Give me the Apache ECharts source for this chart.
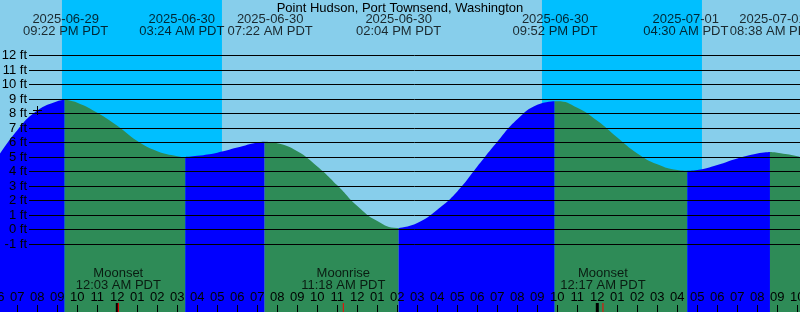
<!DOCTYPE html>
<html><head><meta charset="utf-8">
<script src="https://cdn.jsdelivr.net/npm/echarts@6/dist/echarts.min.js"></script>
<style>html,body{margin:0;padding:0;background:#87CEEB}#c{width:800px;height:312px}</style>
</head><body><div id="c"></div>
<script>
// ---------- data ----------
const chartTitle = 'Point Hudson, Port Townsend, Washington';
const tzName = 'PDT';
// tide extremes (high / low)
const eventTimes = ['2025-06-29 21:22','2025-06-30 03:24','2025-06-30 07:22','2025-06-30 14:04','2025-06-30 21:52','2025-07-01 04:30','2025-07-01 08:38'];
const eventFeet  = [8.95, 5.0, 6.05, 0.1, 8.85, 4.05, 5.35];
// hourly readings, hours counted from 2025-06-29 00:00
const sampleHours = [18,19,20,21,22,23,24,25,26,27,28,29,30,31,32,33,34,35,36,37,38,39,40,41,42,43,44,45,46,47,48,49,50,51,52,53,54,55,56,57,58,59];
const sampleFeet  = [4.95,6.85,8.2,8.85,8.75,8.05,7.15,6.1,5.4,5.06,5.08,5.3,5.65,6.0,5.95,5.4,4.35,3.05,1.62,0.58,0.1,0.45,1.36,2.62,4.34,6.05,7.6,8.6,8.85,8.4,7.5,6.35,5.25,4.5,4.1,4.1,4.45,4.9,5.25,5.3,5.05,4.6];
const sunsetTimes  = ['2025-06-29 21:14','2025-06-30 21:14'];
const sunriseTimes = ['2025-06-30 05:14','2025-07-01 05:14'];
const moonTimes  = ['2025-06-30 00:03','2025-06-30 11:18','2025-07-01 00:17'];
const moonEvents = ['Moonset','Moonrise','Moonset'];
const midnightTimes = ['2025-06-30 00:00','2025-07-01 00:00'];
const nowTime = '2025-06-29 20:00';
const nowFeet = 8.25;
const feetRange = [-1, 12];
const hourRange = [18, 59];

// ---------- helpers ----------
function hoursOf(s){
  const [d,t]=s.split(' ');const [Y,M,D]=d.split('-').map(Number);const [h,m]=t.split(':').map(Number);
  return (Date.UTC(Y,M-1,D,h,m)-Date.UTC(2025,5,29,0,0))/3600000;
}
function pad(n){return (n<10?'0':'')+n;}
function clock(s){
  const [h,m]=s.split(' ')[1].split(':').map(Number);
  const h12=h%12===0?12:h%12;
  return pad(h12)+':'+pad(m)+' '+(h<12?'AM':'PM')+' '+tzName;
}
const FONT='Liberation Sans, Arial, sans-serif';
// label anti-overlap nudges (style, px)
const EVENT_LABEL_NUDGE=[1,-3.5,5.5,0,0.5,-1.5,2.5];

const eventHours = eventTimes.map(hoursOf);
const pts = sampleHours.map((h,i)=>[h,sampleFeet[i]])
  .concat(eventHours.map((h,i)=>[h,eventFeet[i]]))
  .sort((a,b)=>a[0]-b[0]);
const bounds=[hourRange[0],...eventHours,hourRange[1]];
const tideSeries=[];
for(let i=0;i<bounds.length-1;i++){
  const seg=pts.filter(p=>p[0]>=bounds[i]-1e-9&&p[0]<=bounds[i+1]+1e-9);
  const rising=seg[seg.length-1][1]>seg[0][1];
  tideSeries.push({
    type:'line',xAxisIndex:0,yAxisIndex:0,data:seg,smooth:0.5,symbol:'none',silent:true,
    lineStyle:{width:0},areaStyle:{color:rising?'#0000FF':'#2E8B57',opacity:1,origin:'start'},z:2
  });
}

function tickRenderer(color,width,len){
  return function(params,api){
    const x=api.coord([api.value(0),0])[0];
    const h=api.getHeight();
    return {type:'line',shape:{x1:x,y1:h,x2:x,y2:h-len},style:{stroke:color,lineWidth:width}};
  };
}

const chart=echarts.init(document.getElementById('c'),null,{renderer:'canvas'});
chart.setOption({
  animation:false,
  backgroundColor:'#87CEEB',
  title:{text:chartTitle,left:'center',top:1,padding:0,
    textStyle:{fontSize:13,fontWeight:'normal',color:'#000',fontFamily:FONT,lineHeight:14}},
  grid:[
    {left:-2.7,right:-17.3,top:-2.5,bottom:-4.5,containLabel:false,outerBoundsMode:'none'},
    {left:29,right:0,top:55.5,bottom:68,containLabel:false,outerBoundsMode:'none'}
  ],
  xAxis:[
    {gridIndex:0,type:'value',min:hourRange[0],max:hourRange[1],interval:1,z:10,position:'bottom',
      axisLine:{show:false,onZero:false},splitLine:{show:false},
      axisTick:{show:true,inside:true,length:11.5,lineStyle:{color:'#000',width:1}},
      axisLabel:{show:true,inside:true,margin:19,verticalAlign:'middle',color:'#000',fontSize:13,fontFamily:FONT,
        showMinLabel:true,showMaxLabel:true,hideOverlap:false,
        formatter:v=>{const h=((v%24)+24)%24;return pad(h%12===0?12:h%12);}}},
    {gridIndex:1,type:'value',min:0,max:1,show:false,axisLine:{onZero:false}}
  ],
  yAxis:[
    {gridIndex:0,type:'value',min:-6,max:16,show:false,axisLine:{onZero:false}},
    {gridIndex:1,type:'value',min:feetRange[0],max:feetRange[1],interval:1,z:10,
      axisLine:{show:false,onZero:false},axisTick:{show:false},
      splitLine:{show:true,lineStyle:{color:'#000',width:1}},
      axisLabel:{margin:2,color:'#000',fontSize:13,fontFamily:FONT,formatter:'{value} ft',
        showMinLabel:true,showMaxLabel:true}},
    {gridIndex:0,type:'value',min:-2.5,max:316.5,inverse:true,show:false,axisLine:{onZero:false}}
  ],
  series:[
    {type:'custom',xAxisIndex:0,yAxisIndex:0,z:1,silent:true,
      data:sunsetTimes.map((s,i)=>[hoursOf(s),hoursOf(sunriseTimes[i])]),
      renderItem:(params,api)=>{
        const x0=api.coord([api.value(0),0])[0],x1=api.coord([api.value(1),0])[0];
        return {type:'rect',shape:{x:x0,y:0,width:x1-x0,height:api.getHeight()},style:{fill:'#00BFFF'}};
      }},
    ...tideSeries,
    {type:'custom',xAxisIndex:0,yAxisIndex:0,z:11,silent:true,
      data:midnightTimes.map(s=>[hoursOf(s)]),renderItem:tickRenderer('#000',3,9)},
    {type:'custom',xAxisIndex:0,yAxisIndex:0,z:12,silent:true,
      data:moonTimes.map(s=>[hoursOf(s)]),renderItem:tickRenderer('#FF0000',1,9)},
    {type:'custom',xAxisIndex:0,yAxisIndex:0,z:12,silent:true,
      data:[[hoursOf(nowTime),nowFeet]],
      renderItem:(params,api)=>{
        const p=api.coord([api.value(0),api.value(1)]);
        const x=Math.round(p[0])+0.5,y=Math.round(p[1])+0.5;
        return {type:'group',children:[
          {type:'line',shape:{x1:x-4.5,y1:y,x2:x+4.5,y2:y},style:{stroke:'#000',lineWidth:1}},
          {type:'line',shape:{x1:x,y1:y-4.5,x2:x,y2:y+4.5},style:{stroke:'#000',lineWidth:1}}
        ]};
      }},
    {type:'scatter',xAxisIndex:0,yAxisIndex:2,z:13,silent:true,symbolSize:1,itemStyle:{color:'rgba(0,0,0,0)'},
      data:eventTimes.map((s,i)=>({value:[hoursOf(s),25.4],label:{offset:[EVENT_LABEL_NUDGE[i],0]}})),
      label:{show:true,position:'inside',color:'#000',fontSize:13,lineHeight:12,fontFamily:FONT,align:'center',verticalAlign:'middle',
        formatter:p=>eventTimes[p.dataIndex].split(' ')[0]+'\n'+clock(eventTimes[p.dataIndex])}},
    {type:'scatter',xAxisIndex:0,yAxisIndex:2,z:13,silent:true,symbolSize:1,itemStyle:{color:'rgba(0,0,0,0)'},
      data:moonTimes.map(s=>[hoursOf(s),279.5]),
      label:{show:true,position:'inside',color:'#000',fontSize:13,lineHeight:12,fontFamily:FONT,align:'center',verticalAlign:'middle',
        formatter:p=>moonEvents[p.dataIndex]+'\n'+clock(moonTimes[p.dataIndex])}}
  ]
});
</script></body></html>
